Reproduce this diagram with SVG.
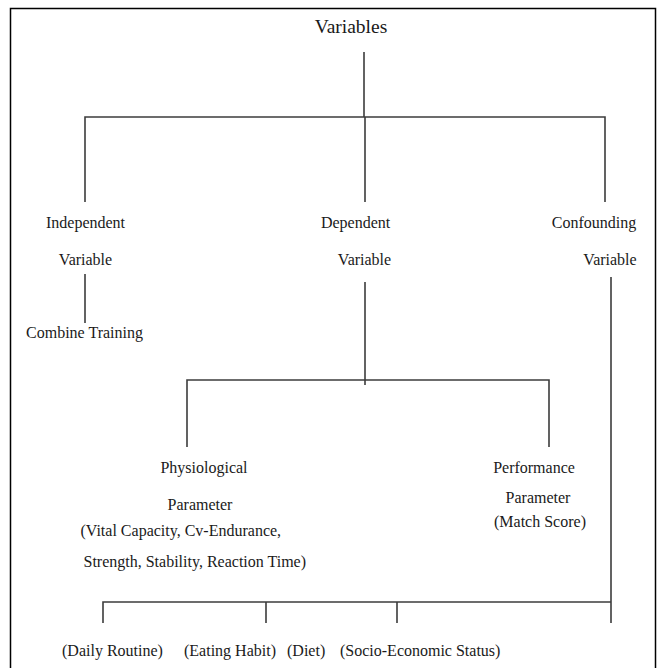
<svg xmlns="http://www.w3.org/2000/svg" width="661" height="668" viewBox="0 0 661 668">
<style>
text{font-family:"Liberation Serif","Times New Roman",serif;font-size:16px;fill:#1a1a1a}
.c{text-anchor:middle}
.ln{stroke:#3c3c3c;stroke-width:1.6;fill:none;stroke-linecap:butt}
</style>
<rect x="0" y="0" width="661" height="668" fill="#fff"/>
<rect x="10.5" y="8.5" width="645" height="670" fill="none" stroke="#000" stroke-width="1.5"/>
<g id="connectors">
<path class="ln" d="M364 52V117" stroke-width="1.2"/>
<path class="ln" d="M85 202V117H605V202M365 117V202"/>
<path class="ln" d="M85 274V323"/>
<path class="ln" d="M365 282V385"/>
<path class="ln" d="M187 447V380H549V447"/>
<path class="ln" d="M611 277V623"/>
<path class="ln" d="M103 623V602H611M266 602V623M397 602V623"/>
</g>
<g id="variables"><text class="c" x="351" y="33" style="font-size:19.5px">Variables</text></g>
<g id="independent"><text class="c" x="85.5" y="228">Independent</text><text class="c" x="85.5" y="265">Variable</text></g>
<g id="dependent"><text class="c" x="355.6" y="228">Dependent</text><text class="c" x="364.5" y="265">Variable</text></g>
<g id="confounding"><text class="c" x="594" y="228">Confounding</text><text class="c" x="610" y="265">Variable</text></g>
<g id="combine-training"><text class="c" x="84.5" y="338">Combine Training</text></g>
<g id="physiological"><text class="c" x="204" y="473">Physiological</text><text class="c" x="200" y="510">Parameter</text><text x="80.5" y="536">(Vital Capacity, Cv-Endurance,</text><text x="83.5" y="567">Strength, Stability, Reaction Time)</text></g>
<g id="performance"><text class="c" x="534" y="473">Performance</text><text class="c" x="538" y="503">Parameter</text><text class="c" x="540" y="527">(Match Score)</text></g>
<g id="daily-routine"><text x="62" y="656">(Daily Routine)</text></g>
<g id="eating-habit"><text x="184" y="656">(Eating Habit)</text></g>
<g id="diet"><text x="287" y="656">(Diet)</text></g>
<g id="socio-economic"><text x="340" y="656">(Socio-Economic Status)</text></g>
</svg>
